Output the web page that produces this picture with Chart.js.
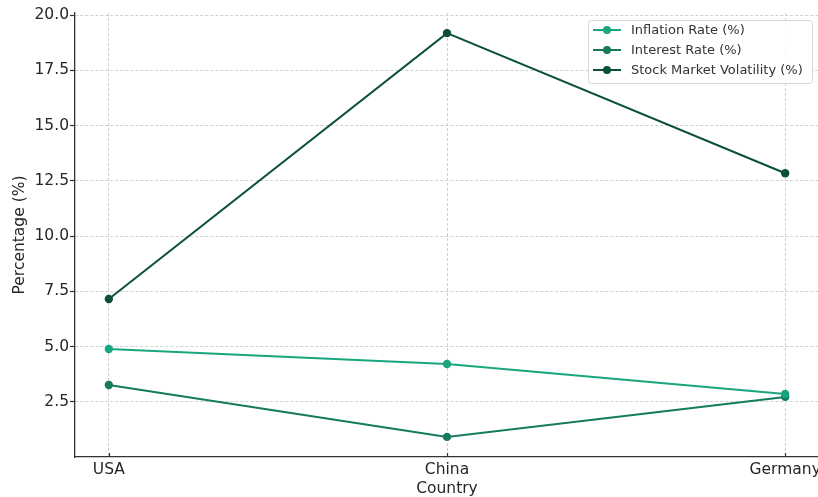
<!DOCTYPE html>
<html>
<head>
<meta charset="utf-8">
<script src="https://cdn.jsdelivr.net/npm/chart.js@4/dist/chart.umd.min.js"></script>
<style>
  html, body { margin: 0; padding: 0; background: #fff; overflow: hidden; }
  #wrap { position: absolute; left: 0; top: 0; width: 830px; height: 497px; }
</style>
</head>
<body>
<div id="wrap"><canvas id="chart" width="830" height="497"></canvas></div>
<script>
var countries = ["USA", "China", "Germany"];
var inflation = [4.9, 4.22, 2.86];
var interest = [3.27, 0.92, 2.73];
var volatility = [7.16, 19.19, 12.85];
var yTicks = [2.5, 5.0, 7.5, 10.0, 12.5, 15.0, 17.5, 20.0];

var seriesNames = ["Inflation Rate (%)", "Interest Rate (%)", "Stock Market Volatility (%)"];
var seriesColors = ["#19a67f", "#157a5e", "#0b4f3c"];
var seriesValues = [inflation, interest, volatility];

var font = "DejaVu Sans";
var textColor = "#262626";

var toPoints = function (values) {
  return values.map(function (v, i) {
    return { x: i, y: v };
  });
};

var datasets = seriesValues.map(function (values, i) {
  return {
    label: seriesNames[i],
    data: toPoints(values),
    borderColor: seriesColors[i],
    backgroundColor: seriesColors[i],
    borderWidth: 2,
    pointRadius: 4.2,
    pointHoverRadius: 4.2,
    pointBorderWidth: 0,
    tension: 0
  };
});

// short tick marks pointing up into the plot on the x axis
var innerTicks = {
  id: "innerTicks",
  afterDraw: function (chart) {
    var ctx = chart.ctx;
    var xs = chart.scales.x;
    ctx.save();
    ctx.strokeStyle = "#333";
    ctx.lineWidth = 1.2;
    xs.ticks.forEach(function (t) {
      var px = Math.round(xs.getPixelForValue(t.value)) + 0.5;
      ctx.beginPath();
      ctx.moveTo(px, xs.top);
      ctx.lineTo(px, xs.top - 4);
      ctx.stroke();
    });
    ctx.restore();
  }
};

// legend box drawn inside the plot, top right corner
var boxLegend = {
  id: "boxLegend",
  afterDraw: function (chart) {
    var ctx = chart.ctx;
    var x = 588, y = 20, w = 224, h = 63;
    ctx.save();
    ctx.fillStyle = "rgba(255,255,255,0.85)";
    ctx.strokeStyle = "#d6d6d6";
    ctx.lineWidth = 1;
    ctx.beginPath();
    ctx.roundRect(x + 0.5, y + 0.5, w, h, 3);
    ctx.fill();
    ctx.stroke();
    ctx.font = "13px '" + font + "'";
    ctx.textBaseline = "middle";
    chart.data.datasets.forEach(function (ds, i) {
      var ly = y + 10 + i * 20;
      ctx.strokeStyle = ds.borderColor;
      ctx.lineWidth = 2;
      ctx.beginPath();
      ctx.moveTo(x + 5, ly);
      ctx.lineTo(x + 33, ly);
      ctx.stroke();
      ctx.fillStyle = ds.borderColor;
      ctx.beginPath();
      ctx.arc(x + 19, ly, 4, 0, Math.PI * 2);
      ctx.fill();
      ctx.fillStyle = "#333";
      ctx.fillText(ds.label, x + 43, ly + 1);
    });
    ctx.restore();
  }
};

var chart = new Chart(document.getElementById("chart").getContext("2d"), {
  type: "line",
  data: { datasets: datasets },
  options: {
    responsive: false,
    animation: false,
    layout: { padding: { top: 13, right: 11, left: 0, bottom: 0 } },
    plugins: { legend: { display: false }, tooltip: { enabled: false } },
    scales: {
      x: {
        type: "linear",
        min: -0.1,
        max: 2.1,
        afterFit: function (scale) { scale.height = 40; },
        afterBuildTicks: function (scale) {
          scale.ticks = countries.map(function (c, i) { return { value: i }; });
        },
        ticks: {
          padding: 4,
          color: textColor,
          font: { family: font, size: 15.5 },
          maxRotation: 0,
          callback: function (v) { return countries[v]; }
        },
        grid: { color: "#d0d0d0", drawTicks: false },
        border: { color: "#333", width: 1.3, dash: [3, 2] },
        title: {
          display: true,
          text: "Country",
          color: textColor,
          font: { family: font, size: 15.5, lineHeight: 1 },
          padding: 0
        }
      },
      y: {
        type: "linear",
        min: 0.01,
        max: 20.1,
        afterFit: function (scale) { scale.width = 75; },
        afterBuildTicks: function (scale) {
          scale.ticks = yTicks.map(function (v) { return { value: v }; });
        },
        ticks: {
          padding: 1,
          color: textColor,
          font: { family: font, size: 15.5 },
          callback: function (v) { return v.toFixed(1); }
        },
        grid: { color: "#d0d0d0", tickLength: 5, tickColor: "#333", tickWidth: 1.2 },
        border: { color: "#333", width: 1.3, dash: [3, 2] },
        title: {
          display: true,
          text: "Percentage (%)",
          color: textColor,
          font: { family: font, size: 15.5 },
          padding: { top: 11, bottom: 0 }
        }
      }
    }
  },
  plugins: [boxLegend, innerTicks]
});
</script>
</body>
</html>
